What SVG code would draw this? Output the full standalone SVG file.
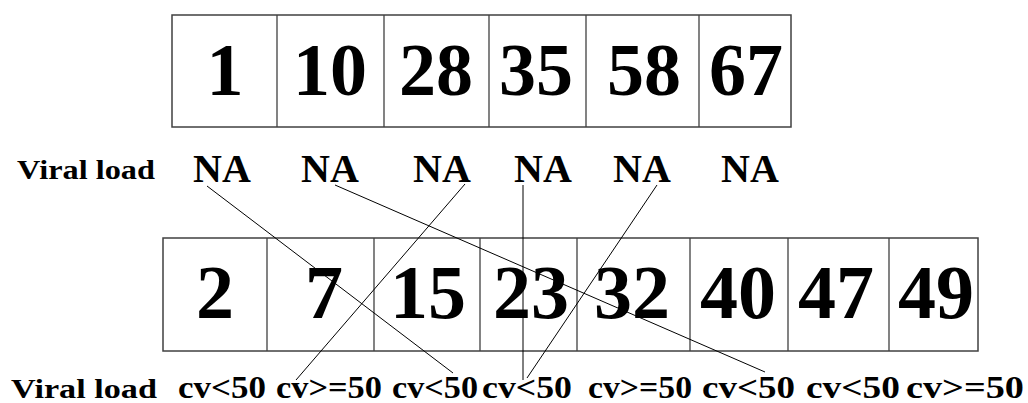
<svg xmlns="http://www.w3.org/2000/svg" width="1028" height="403" viewBox="0 0 1028 403">
<style>
.box{fill:#fff;stroke:#404040;stroke-width:1.5}
.div{stroke:#404040;stroke-width:1.3}
.con{stroke:#000;stroke-width:1;fill:none}
</style>
<rect width="1028" height="403" fill="#fff"/>
<g id="top-array">
<rect class="box" x="172" y="15" width="619" height="112"/>
<line class="div" x1="277" y1="15" x2="277" y2="127"/>
<line class="div" x1="384" y1="15" x2="384" y2="127"/>
<line class="div" x1="489" y1="15" x2="489" y2="127"/>
<line class="div" x1="586" y1="15" x2="586" y2="127"/>
<line class="div" x1="699" y1="15" x2="699" y2="127"/>
<g font-family="Liberation Serif" font-weight="bold" font-size="74" text-anchor="middle" fill="#000">
<text x="225" y="95">1</text>
<text x="330" y="95">10</text>
<text x="436" y="95">28</text>
<text x="536" y="95">35</text>
<text x="644" y="95">58</text>
<text x="746" y="95">67</text>
</g>
</g>
<g id="top-labels" font-family="Liberation Serif" font-weight="bold" fill="#000">
<text x="17" y="179" font-size="28" textLength="138" lengthAdjust="spacingAndGlyphs">Viral load</text>
<g font-size="40" text-anchor="middle">
<text x="222" y="182">NA</text>
<text x="330" y="182">NA</text>
<text x="442" y="182">NA</text>
<text x="543" y="182">NA</text>
<text x="642" y="182">NA</text>
<text x="750" y="182">NA</text>
</g>
</g>
<g id="bottom-array">
<rect class="box" x="163" y="238" width="815" height="113"/>
<line class="div" x1="267" y1="238" x2="267" y2="351"/>
<line class="div" x1="374" y1="238" x2="374" y2="351"/>
<line class="div" x1="480" y1="238" x2="480" y2="351"/>
<line class="div" x1="577" y1="238" x2="577" y2="351"/>
<line class="div" x1="690" y1="238" x2="690" y2="351"/>
<line class="div" x1="788" y1="238" x2="788" y2="351"/>
<line class="div" x1="889" y1="238" x2="889" y2="351"/>
<g font-family="Liberation Serif" font-weight="bold" font-size="76" text-anchor="middle" fill="#000">
<text x="215" y="318">2</text>
<text x="324" y="318">7</text>
<text x="428" y="318">15</text>
<text x="531" y="318">23</text>
<text x="632" y="318">32</text>
<text x="738" y="318">40</text>
<text x="836" y="318">47</text>
<text x="936" y="318">49</text>
</g>
</g>
<g id="bottom-labels" font-family="Liberation Serif" font-weight="bold" fill="#000" font-size="31">
<text x="11" y="398" font-size="27" textLength="146" lengthAdjust="spacingAndGlyphs">Viral load</text>
<text x="178" y="398" textLength="88" lengthAdjust="spacingAndGlyphs">cv&lt;50</text>
<text x="276" y="398" textLength="106" lengthAdjust="spacingAndGlyphs">cv&gt;=50</text>
<text x="392" y="398" textLength="86" lengthAdjust="spacingAndGlyphs">cv&lt;50</text>
<text x="482" y="398" textLength="90" lengthAdjust="spacingAndGlyphs">cv&lt;50</text>
<text x="588" y="398" textLength="104" lengthAdjust="spacingAndGlyphs">cv&gt;=50</text>
<text x="702" y="398" textLength="93" lengthAdjust="spacingAndGlyphs">cv&lt;50</text>
<text x="806" y="398" textLength="94" lengthAdjust="spacingAndGlyphs">cv&lt;50</text>
<text x="906" y="398" textLength="118" lengthAdjust="spacingAndGlyphs">cv&gt;=50</text>
</g>
<g id="connectors">
<line class="con" x1="207" y1="186" x2="453" y2="373"/>
<line class="con" x1="335" y1="185" x2="765" y2="372"/>
<line class="con" x1="465" y1="184" x2="296" y2="380"/>
<line class="con" x1="523" y1="185" x2="523" y2="380"/>
<line class="con" x1="657" y1="185" x2="527" y2="378"/>
</g>
</svg>
